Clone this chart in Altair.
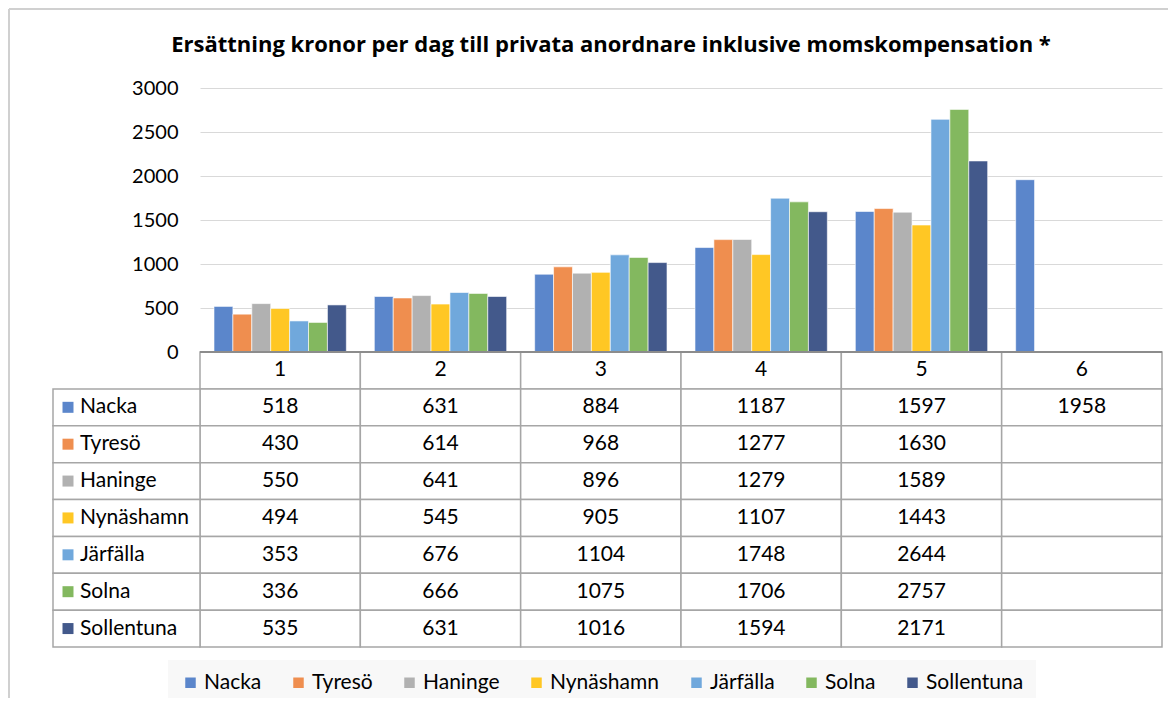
import altair as alt
import pandas as pd

# ---- data ----
categories = ["1", "2", "3", "4", "5", "6"]
series = ["Nacka", "Tyresö", "Haninge", "Nynäshamn", "Järfälla", "Solna", "Sollentuna"]
nacka = [518, 631, 884, 1187, 1597, 1958]
tyreso = [430, 614, 968, 1277, 1630, None]
haninge = [550, 641, 896, 1279, 1589, None]
nynashamn = [494, 545, 905, 1107, 1443, None]
jarfalla = [353, 676, 1104, 1748, 2644, None]
solna = [336, 666, 1075, 1706, 2757, None]
sollentuna = [535, 631, 1016, 1594, 2171, None]
values = [nacka, tyreso, haninge, nynashamn, jarfalla, solna, sollentuna]
colors = ["#5b86cb", "#ef8e4f", "#b1b1b1", "#ffc724", "#70a8dc", "#83b85f", "#43598b"]
y_ticks = [0, 500, 1000, 1500, 2000, 2500, 3000]
title_text = "Ersättning kronor per dag till privata anordnare inklusive momskompensation *"

FONT = "Lato"
W, H = 962, 559
BAR_H = 264

rows = ["hdr"] + series

long = []
for s, vals in zip(series, values):
    for c, v in zip(categories, vals):
        long.append({"cat": c, "series": s, "value": v})
long = pd.DataFrame(long)
bars_df = long.dropna()

cells = []
for r in rows:
    for i, c in enumerate(categories):
        if r == "hdr":
            txt = c
        else:
            v = values[series.index(r)][i]
            txt = "" if v is None else str(int(v))
        cells.append({"cat": c, "row": r, "txt": txt})
cells = pd.DataFrame(cells)
labels_df = pd.DataFrame({"row": series, "series": series})
hdr_df = pd.DataFrame({"row": ["hdr"]})
title_df = pd.DataFrame({"t": [title_text]})

xscale = alt.Scale(domain=categories, paddingInner=0, paddingOuter=0)
row_scale = alt.Scale(domain=rows, range=[BAR_H, H], paddingInner=0, paddingOuter=0)
color_scale = alt.Scale(domain=series, range=colors)

X = alt.X("cat:N", scale=xscale, axis=None)
Yrow = alt.Y("row:N", scale=row_scale, axis=None)

grid_cells = alt.Chart(cells).mark_rect(fill="white", stroke="#a6a6a6", strokeWidth=1.5).encode(
    x=X, y=Yrow
)
label_cells = alt.Chart(labels_df).mark_rect(fill="white", stroke="#a6a6a6", strokeWidth=1.5).encode(
    x=alt.value(-147), x2=alt.value(0), y=Yrow
)

bars = alt.Chart(bars_df).mark_bar(stroke="white", strokeWidth=1, strokeOpacity=0.6).encode(
    x=X,
    xOffset=alt.XOffset("series:N", sort=series,
                        scale=alt.Scale(domain=series, paddingOuter=0.74, paddingInner=0)),
    y=alt.Y("value:Q",
            scale=alt.Scale(domain=[0, 3000], range=[BAR_H, 0], nice=False, zero=True),
            axis=alt.Axis(values=y_ticks, format="d", grid=True, gridColor="#d9d9d9", gridWidth=1.2,
                          domain=False, ticks=False, labelFontSize=20, labelFont=FONT,
                          labelColor="#000000", labelPadding=22, title=None)),
    color=alt.Color("series:N", scale=color_scale, sort=series,
                    legend=alt.Legend(orient="none", legendX=-32, legendY=572,
                                      direction="horizontal", title=None,
                                      fillColor="#f8f8f8", padding=12,
                                      labelFontSize=21, labelFont=FONT, labelColor="#000000",
                                      symbolType="square", symbolSize=110,
                                      symbolStrokeWidth=0, columnPadding=26,
                                      labelOffset=3)),
)

zero_rule = alt.Chart(hdr_df).mark_rule(color="#8c8c8c", strokeWidth=2.2).encode(
    y=alt.Y("row:N", scale=row_scale, axis=None, bandPosition=0)
)

table_text = alt.Chart(cells).mark_text(fontSize=21, font=FONT, color="#000000").encode(
    x=X, y=Yrow, text="txt:N"
)

label_sq = alt.Chart(labels_df).mark_square(size=121, opacity=1).encode(
    x=alt.value(-132), y=Yrow,
    color=alt.Color("series:N", scale=color_scale, sort=series)
)
label_txt = alt.Chart(labels_df).mark_text(align="left", fontSize=21, font=FONT, color="#000000").encode(
    x=alt.value(-120), y=Yrow, text="row:N"
)

title_mark = alt.Chart(title_df).mark_text(
    align="center", baseline="alphabetic", fontSize=22, font="Open Sans", fontWeight="bold",
    color="#000000"
).encode(x=alt.value(411), y=alt.value(-36), text="t:N")

border_left = alt.Chart(hdr_df).mark_rule(color="#d0d0d0", strokeWidth=2).encode(
    x=alt.value(-191), y=alt.value(-79), y2=alt.value(H + 60)
)
border_top = alt.Chart(hdr_df).mark_rule(color="#d0d0d0", strokeWidth=2).encode(
    x=alt.value(-191), x2=alt.value(W + 20), y=alt.value(-79)
)

chart = alt.layer(
    border_left, border_top, title_mark, grid_cells, label_cells, bars, zero_rule,
    table_text, label_sq, label_txt
).resolve_scale(y="independent").properties(
    width=W, height=H,
    autosize=alt.AutoSizeParams(type="none"),
    padding={"left": 192, "top": 80, "right": 6, "bottom": 51},
).configure_view(stroke=None)

chart.save("out.html", embed_options={"renderer": "svg", "actions": False})
